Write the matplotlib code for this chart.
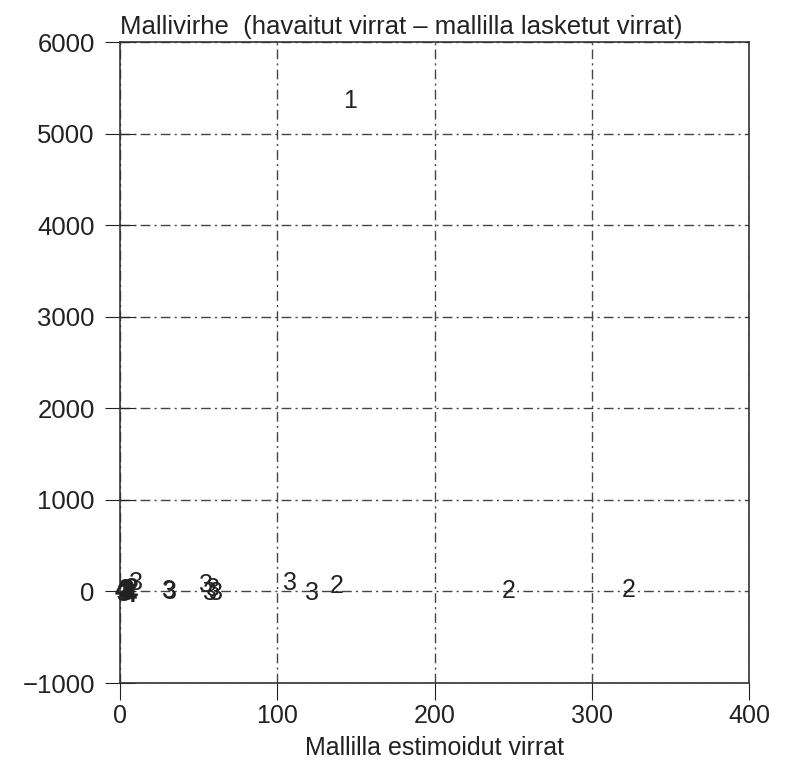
import matplotlib.pyplot as plt

plt.rcParams['font.family'] = ['Liberation Sans', 'DejaVu Sans']

# Estimated flows vs model error, each point drawn as its group number
est_flow = [1, 2, 3, 4, 5, 6, 7, 10, 31, 32, 55, 57, 59, 61, 108, 122, 138, 146, 247, 323]
model_err = [0, -30, 20, -20, 0, -40, 30, 90, 0, -10, 70, -20, 30, -20, 90, -20, 60, 5360, 10, 20]
group = ['4', '3', '2', '3', '3', '4', '2', '3', '3', '3', '3', '3', '3', '3', '3', '3', '2', '1', '2', '2']

x_ticks = [0, 100, 200, 300, 400]
y_ticks = [-1000, 0, 1000, 2000, 3000, 4000, 5000, 6000]

fig, ax = plt.subplots(figsize=(7.99, 7.64), dpi=100)
fig.subplots_adjust(left=0.150, right=0.938, top=0.945, bottom=0.106)

for x, y, g in zip(est_flow, model_err, group):
    w = 'bold' if x <= 7 else 'normal'
    ax.text(x, y, g, ha='center', va='center', fontsize=18, color='#222222', fontweight=w)

ax.set_xlim(0, 400)
ax.set_ylim(-1000, 6000)
ax.set_xticks(x_ticks)
ax.set_yticks(y_ticks)
ax.set_xticklabels([str(t) for t in x_ticks])
ax.set_yticklabels(['\u22121000'] + [str(t) for t in y_ticks[1:]])

ax.grid(True, linestyle=(0, (7, 3, 1.5, 3)), color='#444444', linewidth=1.0)
ax.tick_params(axis='y', direction='inout', length=22, labelsize=18.5, pad=7, colors='#222222')
ax.tick_params(axis='x', direction='out', length=12, labelsize=18, pad=3, colors='#222222')
for s in ax.spines.values():
    s.set_color('#333333')
    s.set_linewidth(1.2)

ax.set_title('Mallivirhe  (havaitut virrat \u2013 mallilla lasketut virrat)',
             loc='left', fontsize=18.5, color='#222222', pad=6)
ax.set_xlabel('Mallilla estimoidut virrat', fontsize=18, color='#222222', labelpad=6)

fig.savefig('out.png', dpi=100)
